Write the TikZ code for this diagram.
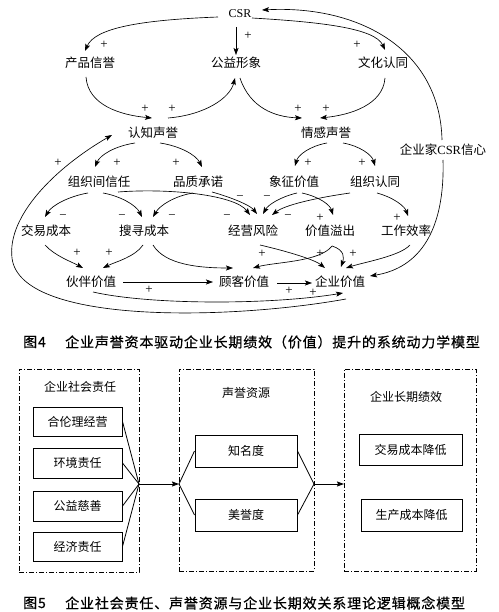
\documentclass[tikz,border=0pt]{standalone}
\usepackage{fontspec}
\setmainfont{Liberation Serif}
\newfontfamily\cjk{Noto Sans CJK SC}
\newfontfamily\capfont[LetterSpace=6,FakeBold=0.6]{Noto Sans CJK SC}
\usetikzlibrary{arrows.meta}
\begin{document}
\begin{tikzpicture}[x=1pt,y=-1pt,
  lbl/.style={font=\cjk\fontsize{12.5}{13}\selectfont, inner sep=1pt},
  sgn/.style={font=\fontsize{13}{13}\selectfont, inner sep=0pt},
  arr/.style={line width=0.65pt, -{Stealth[length=7pt,width=5pt,inset=1.5pt]}},
  outerbox/.style={draw, line width=0.8pt, dash pattern=on 5pt off 2pt on 1pt off 2pt, inner sep=0pt},
  innerbox/.style={draw, line width=1pt, inner sep=0pt, font=\cjk\fontsize{12}{13}\selectfont},
  ttl/.style={font=\cjk\fontsize{12}{13}\selectfont, inner sep=1pt},
  fan/.style={line width=0.8pt},
  bigarr/.style={line width=1pt, -{Stealth[length=7pt,width=5pt,inset=1pt]}},
  captxt/.style={font=\capfont\fontsize{14}{15}\selectfont, inner sep=0pt, anchor=west}
]
\useasboundingbox (0,0) rectangle (498,612);
\fill[white] (0,0) rectangle (498,612);

% ---------------- upper diagram: nodes
\node[lbl] (csr)   at (240,14)  {\rmfamily\fontsize{12}{13}\selectfont CSR};
\node[lbl] (cpxy)  at (90,63)   {产品信誉};
\node[lbl] (gyxx)  at (236,63)  {公益形象};
\node[lbl] (whrt)  at (383,63)  {文化认同};
\node[lbl] (rzsy)  at (153,133) {认知声誉};
\node[lbl] (qgsy)  at (326,133) {情感声誉};
\node[lbl] (qyj)   at (443,150) {企业家{\rmfamily CSR}信心};
\node[lbl] (zzjxr) at (99,182)  {组织间信任};
\node[lbl] (pzcn)  at (198,182) {品质承诺};
\node[lbl] (xzjz)  at (294,182) {象征价值};
\node[lbl] (zzrt)  at (375,182) {组织认同};
\node[lbl] (jycb)  at (46,231)  {交易成本};
\node[lbl] (sxcb)  at (144,231) {搜寻成本};
\node[lbl] (jyfx)  at (253,231) {经营风险};
\node[lbl] (jzyc)  at (330,231) {价值溢出};
\node[lbl] (gzxl)  at (406,231) {工作效率};
\node[lbl] (hbjz)  at (91,282)  {伙伴价值};
\node[lbl] (gkjz)  at (244,282) {顾客价值};
\node[lbl] (qyjz)  at (340,282) {企业价值};

% ---------------- upper diagram: connectors
\draw[arr] ([shift={(-22,3)}]csr.center) .. controls (140,20) and (95,28) .. ([shift={(-5,-12)}]cpxy.center);
\draw[arr] ([shift={(-4,13)}]csr.center) -- ([shift={(0,-8)}]gyxx.center);
\draw[arr] ([shift={(12,4)}]csr.center) .. controls (320,22) and (375,28) .. ([shift={(2,-13)}]whrt.center);
\draw[arr] ([shift={(-1,-10)}]qyj.center) .. controls (440,50) and (360,5) .. ([shift={(22,-4)}]csr.center);
\draw[arr] ([shift={(-4,14)}]cpxy.center) .. controls (88,105) and (120,115) .. ([shift={(-1,-15)}]rzsy.center);
\draw[arr] ([shift={(15,-15)}]rzsy.center) .. controls (205,115) and (230,98) .. ([shift={(-1,15)}]gyxx.center);
\draw[arr] ([shift={(4,15)}]gyxx.center) .. controls (250,108) and (275,117) .. ([shift={(-24,-15)}]qgsy.center);
\draw[arr] ([shift={(2,15)}]whrt.center) .. controls (383,105) and (350,115) .. ([shift={(-6,-15)}]qgsy.center);
\draw[arr] ([shift={(-18,10)}]rzsy.center) .. controls (115,146) and (100,155) .. ([shift={(-4,-15)}]zzjxr.center);
\draw[arr] ([shift={(7,10)}]rzsy.center) .. controls (180,146) and (196,155) .. ([shift={(4,-15)}]pzcn.center);
\draw[arr] ([shift={(1,10)}]qgsy.center) .. controls (310,146) and (298,155) .. ([shift={(1,-16)}]xzjz.center);
\draw[arr] ([shift={(17,10)}]qgsy.center) .. controls (360,146) and (372,155) .. ([shift={(0,-16)}]zzrt.center);
\draw[arr] ([shift={(6,17)}]qyjz.center) .. controls (230,320) and (20,325) .. (12,258)
           .. controls (7,216) and (55,168) .. ([shift={(-41,2)}]rzsy.center);
\draw[arr] ([shift={(2,10)}]hbjz.center) .. controls (150,305) and (270,305) .. ([shift={(3,11)}]qyjz.center);
\draw[arr] ([shift={(-11,11)}]zzjxr.center) .. controls (70,196) and (52,205) .. ([shift={(-1,-14)}]jycb.center);
\draw[arr] ([shift={(4,11)}]zzjxr.center) .. controls (120,196) and (136,205) .. ([shift={(-2,-14)}]sxcb.center);
\draw[arr] ([shift={(-5,11)}]pzcn.center) .. controls (175,196) and (160,205) .. ([shift={(9,-14)}]sxcb.center);
\draw[arr] ([shift={(19,10)}]zzjxr.center) .. controls (170,188) and (235,195) .. ([shift={(-3,-16)}]jyfx.center);
\draw[arr] ([shift={(14,10)}]pzcn.center) .. controls (230,197) and (250,205) .. ([shift={(4,-17)}]jyfx.center);
\draw[arr] ([shift={(3,11)}]xzjz.center) .. controls (280,197) and (268,205) .. ([shift={(10,-17)}]jyfx.center);
\draw[arr] ([shift={(-25,11)}]zzrt.center) .. controls (315,198) and (285,205) .. ([shift={(19,-16)}]jyfx.center);
\draw[arr] ([shift={(8,11)}]xzjz.center) .. controls (320,197) and (330,205) .. ([shift={(3,-16)}]jzyc.center);
\draw[arr] ([shift={(2,11)}]zzrt.center) .. controls (395,198) and (405,207) .. ([shift={(2,-15)}]gzxl.center);
\draw[arr] ([shift={(-1,14)}]jycb.center) .. controls (55,256) and (72,262) .. ([shift={(-8,-14)}]hbjz.center);
\draw[arr] ([shift={(-1,14)}]sxcb.center) .. controls (135,257) and (115,262) .. ([shift={(12,-14)}]hbjz.center);
\draw[arr] ([shift={(9,14)}]sxcb.center) .. controls (165,265) and (200,268) .. ([shift={(-11,-14)}]gkjz.center);
\draw[arr] ([shift={(32,0)}]hbjz.center) -- ([shift={(-31,0)}]gkjz.center);
\draw[arr] ([shift={(33,1)}]gkjz.center) -- ([shift={(-28,1)}]qyjz.center);
\draw[arr] ([shift={(7,14)}]jyfx.center) .. controls (290,252) and (315,260) .. ([shift={(-15,-14)}]qyjz.center);
\draw[arr] ([shift={(2,15)}]jzyc.center) .. controls (320,262) and (275,262) .. ([shift={(9,-14)}]gkjz.center);
\draw[arr] ([shift={(2,15)}]jzyc.center) .. controls (345,250) and (344,258) .. ([shift={(1,-15)}]qyjz.center);
\draw[arr] ([shift={(4,14)}]gzxl.center) .. controls (400,256) and (365,262) .. ([shift={(6,-14)}]qyjz.center);
\draw[arr] ([shift={(0,10)}]qyj.center) .. controls (445,230) and (420,268) .. ([shift={(30,-6)}]qyjz.center);

% ---------------- signs
\node[sgn] (s1)  at (104,45)  {+};
\node[sgn] (s2)  at (248,36)  {+};
\node[sgn] (s3)  at (357,45)  {+};
\node[sgn] (s4)  at (145,109) {+};
\node[sgn] (s5)  at (172,109) {+};
\node[sgn] (s6)  at (298,109) {+};
\node[sgn] (s7)  at (326,109) {+};
\node[sgn] (s8)  at (58,163)  {+};
\node[sgn] (s9)  at (117,163) {+};
\node[sgn] (s10) at (176,163) {+};
\node[sgn] (s11) at (308,163) {+};
\node[sgn] (s12) at (362,163) {+};
\node[sgn] (s13) at (63,217)  {−};
\node[sgn] (s14) at (122,217) {−};
\node[sgn] (s15) at (172,217) {−};
\node[sgn] (s16) at (227,217) {−};
\node[sgn] (s17) at (240,198) {−};
\node[sgn] (s18) at (267,198) {−};
\node[sgn] (s19) at (288,217) {−};
\node[sgn] (s20) at (320,218) {+};
\node[sgn] (s21) at (397,218) {+};
\node[sgn] (s22) at (77,253)  {+};
\node[sgn] (s23) at (109,253) {+};
\node[sgn] (s24) at (262,254) {+};
\node[sgn] (s25) at (320,254) {+};
\node[sgn] (s26) at (353,254) {+};
\node[sgn] (s27) at (149,290) {+};
\node[sgn] (s28) at (289,291) {+};
\node[sgn] (s29) at (313,293) {+};

% ---------------- caption 4
\node[captxt] (c4a) at (23,342) {图4};
\node[captxt] (c4b) at (65,342) {企业声誉资本驱动企业长期绩效（价值）提升的系统动力学模型};

% ---------------- lower diagram
\node[outerbox, minimum width=120pt, minimum height=203pt] (o1) at (79,470.5) {};
\node[outerbox, minimum width=135pt, minimum height=202pt] (o2) at (246.5,470) {};
\node[outerbox, minimum width=132pt, minimum height=202pt] (o3) at (410,470) {};

\node[ttl] (t1) at (80,387)  {企业社会责任};
\node[ttl] (t2) at (246,393) {声誉资源};
\node[ttl] (t3) at (406,397) {企业长期绩效};

\node[innerbox, minimum width=89pt, minimum height=29pt] (b11) at (77.5,421.5) {合伦理经营};
\node[innerbox, minimum width=89pt, minimum height=30pt] (b12) at (77.5,463) {环境责任};
\node[innerbox, minimum width=89pt, minimum height=30pt] (b13) at (77.5,506) {公益慈善};
\node[innerbox, minimum width=89pt, minimum height=29pt] (b14) at (77.5,546.5) {经济责任};
\node[innerbox, minimum width=102pt, minimum height=32pt] (b21) at (246,451) {知名度};
\node[innerbox, minimum width=102pt, minimum height=32pt] (b22) at (246,515) {美誉度};
\node[innerbox, minimum width=103pt, minimum height=31pt] (b31) at (410.5,449.5) {交易成本降低};
\node[innerbox, minimum width=101pt, minimum height=32pt] (b32) at (411.5,515) {生产成本降低};

\coordinate (j1) at (139,484);
\coordinate (j2) at (179,484);
\coordinate (j3) at (314,484);
\coordinate (j4) at (344,484);

\draw[fan] (b11.east) -- (j1);
\draw[fan] (b12.east) -- (j1);
\draw[fan] (b13.east) -- (j1);
\draw[fan] (b14.east) -- (j1);
\draw[bigarr] (j1) -- (j2);
\draw[fan] (j2) -- (b21.west);
\draw[fan] (j2) -- (b22.west);
\draw[fan] (b21.east) -- (j3);
\draw[fan] (b22.east) -- (j3);
\draw[bigarr] (j3) -- (j4);

% ---------------- caption 5
\node[captxt] (c5a) at (23,603) {图5};
\node[captxt] (c5b) at (65,603) {企业社会责任、声誉资源与企业长期效关系理论逻辑概念模型};
\end{tikzpicture}
\end{document}
